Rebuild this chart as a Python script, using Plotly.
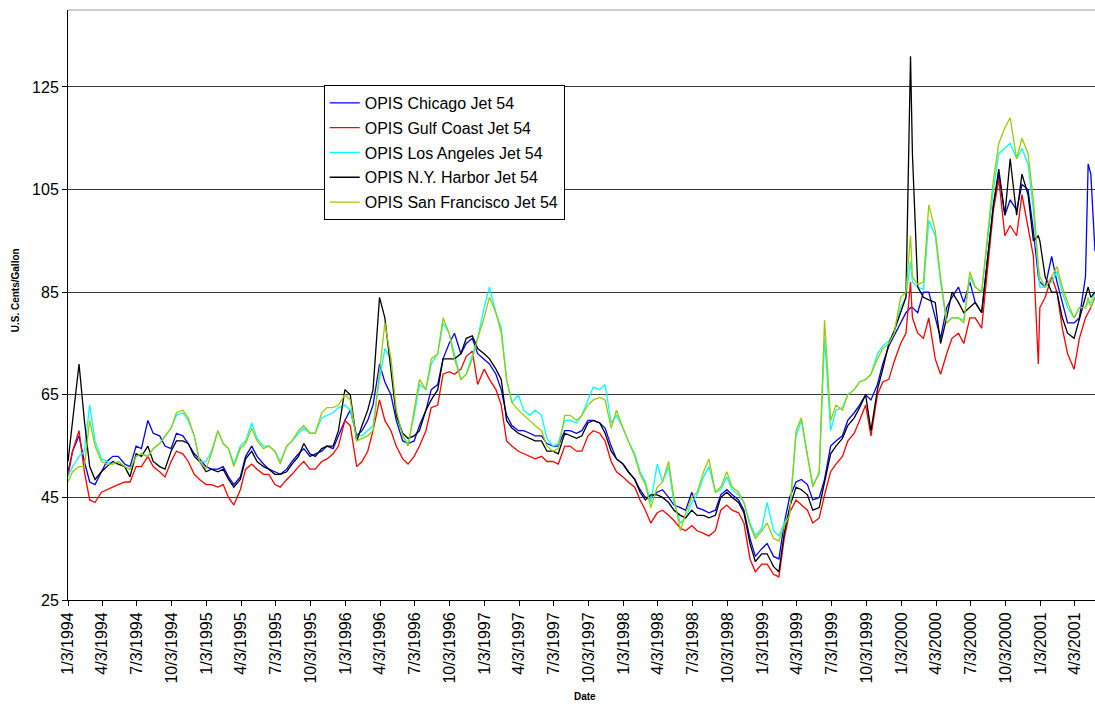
import pandas as pd
import plotly.graph_objects as go

# ---------------- data ----------------
# semi-monthly sample dates (1st and 15th), plus a few extra dates at spikes
DATES = []
for yr in range(1994, 2001):
    for mo in range(1, 13):
        for dy in (1, 15):
            d = f"{yr}-{mo:02d}-{dy:02d}"
            if d == "1994-01-01":
                d = "1994-01-03"
            DATES.append(d)
            if d == "2000-01-15":
                DATES.append("2000-01-27")
            if d == "2000-12-15":
                DATES.append("2000-12-28")
for mo in range(1, 6):
    for dy in (1, 15):
        d = f"2001-{mo:02d}-{dy:02d}"
        DATES.append(d)
        if d == "2001-05-01":
            DATES.append("2001-05-08")
DATES.append("2001-05-26")

CHICAGO = [
    50, 54, 57, 52, 48, 47.5, 50, 52, 53, 53, 51.5, 51, 55, 54.5, 60, 57.5, 57, 55, 54.5, 57.5, 57, 55.5, 53.5, 52.5,
    51, 50.5, 50.5, 51, 49, 47.5, 49, 53, 55, 53, 51.5, 50.5, 50, 49.5, 50.5, 52, 53.5, 54.5, 53, 53.5, 54, 55, 54.5, 57,
    60, 62, 57, 58, 60, 63, 71, 67.5, 65, 60, 56, 55.5, 56, 59, 62, 66, 67, 72, 75, 77, 73, 75, 76, 73,
    72, 71, 69, 66, 61, 59, 58, 58, 57.5, 57, 57, 55.5, 55, 55, 58, 58, 57.5, 58, 60, 60, 59.5, 58.5, 55, 52.5,
    51.5, 50, 48.5, 46.5, 45, 45, 46, 46.5, 45, 43.5, 43, 42.5, 46, 43, 42.5, 42, 42.5, 45.5, 46.5, 45.5, 44.5, 42.5, 37, 33.5,
    35, 36, 33.5, 33, 40, 45, 48, 48.5, 47.5, 44.5, 45, 48.5, 55, 56, 57, 60, 61.5, 63, 65, 64, 67, 71, 74.5, 76.5,
    79, 81, 82, 82, 81, 85, 85, 80, 76, 82, 84, 86, 83, 87, 83, 81, 91, 102, 108, 100, 103, 101, 106, 105, 97, 88,
    87, 86, 92, 87, 83, 79, 79, 80, 88, 110, 108, 93,
]
GULF_COAST = [
    49, 54, 58, 50, 44.5, 44, 46, 46.5, 47, 47.5, 48, 48, 51, 51, 53, 51, 50, 49, 52, 54, 53.5, 52, 49.5, 48.5,
    47.5, 47.5, 47, 47.5, 45, 43.5, 46.5, 50.5, 51.5, 50.5, 49.5, 49.5, 47.5, 47, 48.5, 49.5, 51, 52, 50.5, 50.5, 52, 52.5, 53.5, 55,
    60, 59, 51, 52, 54, 58, 64, 60, 58, 55, 52.5, 51.5, 53, 55, 58, 62.5, 63, 69, 69.5, 69, 70, 72.5, 73.5, 67,
    70, 68, 66, 63, 56, 55, 54, 53.5, 53, 52.5, 53, 52, 52, 51.5, 55, 55, 54, 54, 57, 58, 57.5, 56, 52, 50,
    49, 48, 47, 44.5, 42.5, 40, 42, 42.5, 41.5, 40.5, 39, 38.5, 39.5, 38.5, 38, 37.5, 38.5, 42.5, 43.5, 42.5, 42, 40, 33, 30.5,
    32, 32, 30, 29.5, 37, 42, 44.5, 43.5, 42.5, 40, 41, 45.5, 50, 51.5, 53, 56, 57.5, 60, 63, 57, 65, 67.5, 68, 71.5,
    75, 77, 87, 80, 77, 76, 80, 72, 69, 73, 76, 77, 75, 80, 80, 78, 89, 101, 107, 96, 98, 96, 104, 98, 92, 71,
    82, 84, 88, 85, 78, 73, 70, 76, 80, 81, 82, 84,
]
LOS_ANGELES = [
    49, 51, 53, 54, 63, 56, 52.5, 52, 51.5, 52, 51, 50.5, 53, 53.5, 53, 54.5, 55.5, 57, 58.5, 61, 61.5, 60, 57, 52,
    52, 54, 58, 55.5, 54.5, 51.5, 55, 56, 59.5, 56.5, 55, 55, 54, 52, 55, 56, 57.5, 58.5, 57.5, 57.5, 60.5, 61, 61.5, 62.5,
    63, 62, 57, 57, 58, 59, 68, 74, 72, 61, 57, 55.5, 61, 67, 66, 71, 73, 79, 77, 73, 68, 69, 73, 76,
    82, 86, 81, 78, 68, 63.5, 65, 62, 61, 62, 61, 56.5, 55, 55.5, 60, 60, 59.5, 61, 64, 66.5, 66, 67, 59.5, 61,
    58.5, 56, 53.5, 50, 48, 44, 51.5, 48, 51, 44, 40, 41, 44, 45.5, 49, 51, 46, 46.5, 49, 46.5, 45.5, 44, 40, 37.5,
    39, 44, 38.5, 37.5, 40, 42, 57, 60, 53, 47.5, 49.5, 76, 58, 62, 62.5, 65, 66, 67.5, 68, 69, 73, 74.5, 75.5, 77,
    82, 84, 91, 87, 86, 85.5, 99, 96, 87, 79, 80, 80, 79.5, 88, 86, 85, 94, 105, 112, 113, 114, 111, 113, 110, 101, 89,
    86, 86, 87, 89, 85, 82, 80, 82, 82, 83, 83, 85,
]
NY_HARBOR = [
    52, 60, 71, 60, 51, 48.5, 50, 51, 52, 51.5, 51, 49, 53.5, 53, 55, 52, 51, 50.5, 54, 56, 56, 55.5, 53, 52,
    50, 50.5, 50, 50.5, 48.5, 47, 48.5, 52.5, 54, 52, 51, 50.5, 49.5, 49.5, 50, 51.5, 53, 55.5, 53.5, 53, 54.5, 55, 55, 58,
    66, 65, 56, 59, 62, 66, 84, 80, 70, 61, 57.5, 56.5, 57, 58, 62, 64, 66, 72, 72, 72, 73, 76, 76.5, 74,
    73, 72, 70, 68, 60, 58.5, 57.5, 57, 56.5, 56, 56, 54, 54, 53.5, 57.5, 57, 56.5, 57, 59.5, 60, 59.5, 57.5, 54, 52.5,
    51.5, 50, 48.5, 46, 44.5, 45.5, 45.5, 45, 44, 42.5, 41.5, 41, 42.5, 41.5, 41.5, 41, 41.5, 45, 46, 45, 44, 42, 36, 32.5,
    34, 34, 31.5, 30.5, 38, 43, 47, 46.5, 45.5, 42.5, 43, 48, 53.5, 55, 56.5, 59, 60.5, 62.5, 65, 58, 66, 70, 75, 77.5,
    81, 84, 131, 112, 86, 84, 83.5, 83, 75, 80, 85, 83, 81, 82, 83, 81, 90, 102, 109, 100, 111, 100, 108, 104, 95, 96,
    95, 88, 85, 85, 80, 77, 76, 80, 84, 86, 84, 85,
]
SAN_FRANCISCO = [
    48, 50, 51, 51, 60, 55, 52, 51.5, 51.5, 52, 51, 50.5, 53, 53.5, 53, 54.5, 55.5, 57, 58.5, 61.5, 62, 60.5, 57, 52,
    50.5, 53.5, 58, 55.5, 54.5, 51, 54.5, 55.5, 58.5, 56, 54.5, 55, 54, 51.5, 55, 56, 58, 59, 57.5, 57.5, 61.5, 62.5, 62.5, 63,
    65, 64, 56, 56.5, 57, 58, 70, 79, 72, 62, 57, 55, 62, 68, 66, 72, 73, 80, 77, 72, 68, 69, 72, 76,
    80, 84, 81, 77, 68, 63.5, 62, 61, 60, 59, 58, 55, 54, 54.5, 61, 61, 60, 61, 63, 64, 64.5, 64, 58.5, 62,
    58.5, 56, 53, 49.5, 47.5, 43, 47, 48, 52, 45, 38.5, 42, 45, 46, 50, 52.5, 46, 47, 50, 47, 46, 44, 39.5, 37,
    38.5, 40, 37, 36.5, 39.5, 41.5, 58, 60.5, 53, 47, 50, 79.5, 60, 63, 62, 65, 66, 67.5, 68, 69, 72, 74, 75, 77,
    84, 85, 96, 88, 86.5, 87, 102, 97, 88, 79, 80, 80, 79, 89, 86, 85, 95, 107, 114, 117, 119, 111, 115, 112, 103, 90,
    88, 86, 88, 90, 86, 83, 80, 82, 82, 84, 82, 84,
]

SERIES_NAMES = [
    "OPIS Chicago Jet 54",
    "OPIS Gulf Coast Jet 54",
    "OPIS Los Angeles Jet 54",
    "OPIS N.Y. Harbor Jet 54",
    "OPIS San Francisco Jet 54",
]
SERIES_VALUES = [CHICAGO, GULF_COAST, LOS_ANGELES, NY_HARBOR, SAN_FRANCISCO]
SERIES_COLORS = ["#0000FF", "#FF0000", "#00FFFF", "#000000", "#99CC00"]

TICK_LABELS = [
    "1/3/1994", "4/3/1994", "7/3/1994", "10/3/1994",
    "1/3/1995", "4/3/1995", "7/3/1995", "10/3/1995",
    "1/3/1996", "4/3/1996", "7/3/1996", "10/3/1996",
    "1/3/1997", "4/3/1997", "7/3/1997", "10/3/1997",
    "1/3/1998", "4/3/1998", "7/3/1998", "10/3/1998",
    "1/3/1999", "4/3/1999", "7/3/1999", "10/3/1999",
    "1/3/2000", "4/3/2000", "7/3/2000", "10/3/2000",
    "1/3/2001", "4/3/2001",
]
Y_TICKS = [25, 45, 65, 85, 105, 125]

for name, vals in zip(SERIES_NAMES, SERIES_VALUES):
    assert len(vals) == len(DATES), (name, len(vals), len(DATES))

# ---------------- figure ----------------
x = pd.to_datetime(DATES)
tickvals = pd.to_datetime(TICK_LABELS, format="%m/%d/%Y")

FONT = "Liberation Sans, Arial, sans-serif"
fig = go.Figure()
for name, vals, col in zip(SERIES_NAMES, SERIES_VALUES, SERIES_COLORS):
    fig.add_trace(go.Scatter(
        x=x, y=vals, mode="lines", name=name, legendgroup=name,
        line=dict(color=col, width=1.3),
    ))

fig.update_layout(
    width=1095, height=704,
    margin=dict(l=68, r=0, t=10, b=104),
    paper_bgcolor="white", plot_bgcolor="white",
    font=dict(family=FONT, size=16, color="black"),
    showlegend=True,
    legend=dict(
        x=0.249, y=0.873, xanchor="left", yanchor="top",
        bgcolor="white", bordercolor="black", borderwidth=1,
        font=dict(family=FONT, size=16, color="black"),
        itemwidth=30, tracegroupgap=1,
    ),
    xaxis=dict(
        type="date",
        range=["1994-01-03", "2001-05-26"],
        tickvals=tickvals, ticktext=TICK_LABELS,
        tickangle=-90, ticks="outside", ticklen=5, tickcolor="black",
        showline=True, linecolor="black", linewidth=1,
        showgrid=False, zeroline=False,
        tickfont=dict(family=FONT, size=16, color="black"),
    ),
    yaxis=dict(
        range=[25, 140],
        tickvals=Y_TICKS,
        ticks="outside", ticklen=5, tickcolor="black",
        showline=True, linecolor="black", linewidth=1,
        showgrid=True, gridcolor="#3a3a3a", gridwidth=1,
        zeroline=False,
        tickfont=dict(family=FONT, size=16, color="black"),
    ),
    shapes=[dict(type="line", xref="paper", yref="paper", x0=0, x1=1, y0=1, y1=1,
                 line=dict(color="#9a9a9a", width=1))],
    annotations=[
        dict(text="<b>U.S. Cents/Gallon</b>", xref="paper", yref="paper",
             x=-0.0516, y=0.525, textangle=-90, showarrow=False,
             font=dict(family=FONT, size=10, color="black"),
             xanchor="center", yanchor="middle"),
        dict(text="<b>Date</b>", xref="paper", yref="paper",
             x=0.503, y=-0.1644, showarrow=False,
             font=dict(family=FONT, size=10, color="black"),
             xanchor="center", yanchor="middle"),
    ],
)

# remove the default 8px page margin so the 1095x704 figure fills the window exactly
fig.write_html(
    "out.html",
    config={"displayModeBar": False},
    post_script="document.body.style.margin='0px';document.documentElement.style.overflow='hidden';",
)
